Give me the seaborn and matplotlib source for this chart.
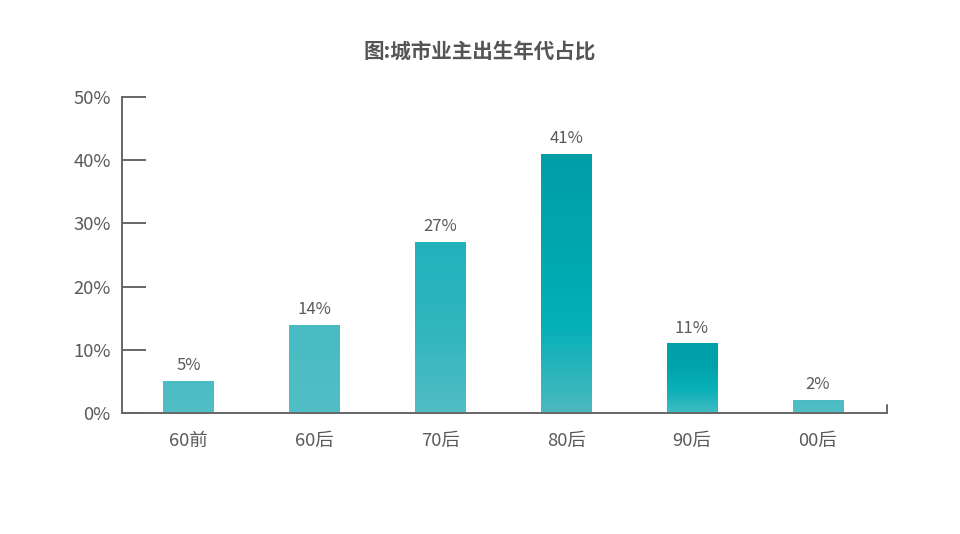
import matplotlib
matplotlib.use("Agg")
import matplotlib.pyplot as plt
from matplotlib.colors import LinearSegmentedColormap
import numpy as np
import pandas as pd
import seaborn as sns

# data
generations = ['60前', '60后', '70后', '80后', '90后', '00后']
shares = [5, 14, 27, 41, 11, 2]
title = '图:城市业主出生年代占比'

# per-bar vertical gradient (bottom -> top)
gradients = [
    ['#52BEC5', '#4BBCC3'],
    ['#52BEC5', '#49BBC3'],
    ['#52BCC3', '#30B6BF', '#22B2BC'],
    ['#4CB9BF', '#04B0B8', '#00A6AE', '#009FA7'],
    ['#42BCC3', '#0AB0B8', '#00A3AB', '#00A0A8'],
    ['#52BEC5', '#4BBCC3'],
]

sns.set_theme(style='white')
plt.rcParams['font.family'] = ['Noto Sans CJK SC', 'DejaVu Sans']

df = pd.DataFrame({'gen': generations, 'share': shares})

fig = plt.figure(figsize=(9.6, 5.34), dpi=100)
ax = fig.add_axes([0.127, 0.2266, 0.797, 0.5918])

sns.barplot(data=df, x='gen', y='share', color='#4DBDC4', width=0.4,
            saturation=1, ax=ax)

# gradient fill clipped to each bar
for patch, stops in zip(ax.patches, gradients):
    x0, y0 = patch.get_x(), patch.get_y()
    w, h = patch.get_width(), patch.get_height()
    cmap = LinearSegmentedColormap.from_list('g', stops)
    grad = np.linspace(0, 1, 256).reshape(-1, 1)
    im = ax.imshow(grad, cmap=cmap, origin='lower', aspect='auto',
                   extent=[x0, x0 + w, y0, y0 + h], zorder=patch.get_zorder())
    im.set_clip_path(patch)
    patch.set_edgecolor('none')

ax.set_xlim(-0.53, 5.55)
ax.set_ylim(0, 50)
ax.set_yticks([0, 10, 20, 30, 40, 50])
ax.set_yticklabels([f'{v}%' for v in [0, 10, 20, 30, 40, 50]])
ax.set_xlabel('')
ax.set_ylabel('')

for i, v in enumerate(shares):
    ax.text(i, v + 1.1, f'{v}%', ha='center', va='bottom',
            fontsize=12, color='#5a5a5a')

ax.spines[['top', 'right']].set_visible(False)
for s in ['left', 'bottom']:
    ax.spines[s].set_color('#666666')
    ax.spines[s].set_linewidth(1.4)

ax.tick_params(axis='y', left=True, direction='in', length=17, width=1.4,
               color='#666666', labelcolor='#5a5a5a', labelsize=13.3, pad=8)
ax.tick_params(axis='x', bottom=False, length=0, labelcolor='#5a5a5a',
               labelsize=13.3, pad=14)

# small end tick on the right of the x axis
ax.plot([1, 1], [0, 0.025], transform=ax.transAxes, color='#666666',
        linewidth=1.4, clip_on=False)

fig.text(0.5, 0.902, title, ha='center', va='center', fontsize=14.8,
         fontweight='bold', color='#555555')

fig.savefig('out.png', dpi=100, facecolor='white')
